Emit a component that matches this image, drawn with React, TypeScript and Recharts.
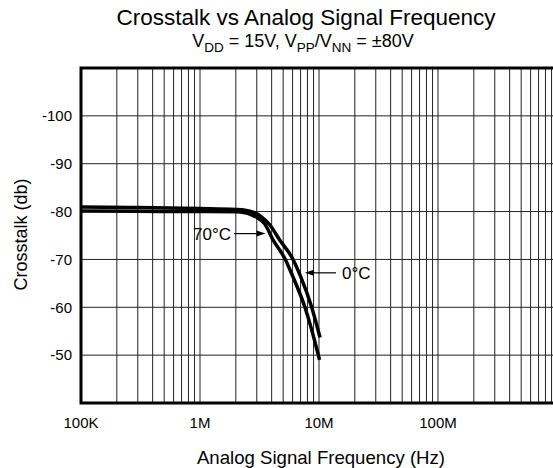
import { LineChart, Line, XAxis, YAxis, CartesianGrid, ReferenceArea, ReferenceLine } from 'recharts';

// curves (Hz, dB)
const freq70 = [1e5, 3e5, 1e6, 2.0e6, 2.39e6, 2.74e6, 3.07e6, 3.48e6, 4.11e6, 5.21e6, 6.01e6, 7.62e6, 9.87e6, 1.01e7];
const db70 = [-80.1, -80.05, -80.0, -79.95, -79.75, -79.27, -78.65, -77.5, -74.1, -70, -66.5, -60, -50, -49.0];

const freq0 = [1e5, 3e5, 1e6, 2.0e6, 2.39e6, 2.79e6, 3.26e6, 3.84e6, 4.66e6, 6.05e6, 6.99e6, 8.68e6, 1.02e7];
const db0 = [-80.95, -80.85, -80.65, -80.45, -80.3, -79.9, -78.96, -77.3, -74.1, -70, -66.5, -60, -53.7];

const decadeLabels: Record<number, string> = { 1e5: '100K', 1e6: '1M', 1e7: '10M', 1e8: '100M' };
const xTicks: number[] = [];
[1e5, 1e6, 1e7, 1e8].forEach((d) => {
  for (let m = 1; m < 10; m++) xTicks.push(d * m);
});
xTicks.push(1e9);
const yTicks = [-100, -90, -80, -70, -60, -50];

const data70 = freq70.map((f, i) => ({ freq: f, db: db70[i] }));
const data0 = freq0.map((f, i) => ({ freq: f, db: db0[i] }));

const FONT = '"Liberation Sans", Arial, Helvetica, sans-serif';

const Arrow = (props: any) => {
  const { x1, y1, x2, y2, text, side } = props;
  const dir = x2 > x1 ? 1 : -1;
  const hl = 9;
  return (
    <g>
      <line x1={x1} y1={y1} x2={x2 - dir * hl} y2={y2} stroke="#000" strokeWidth={1.2} />
      <polygon points={`${x2},${y2} ${x2 - dir * hl},${y2 - 3} ${x2 - dir * hl},${y2 + 3}`} fill="#000" />
      <text
        x={side === 'left' ? x1 - 3 : x1 + 6}
        y={y1 + 6}
        textAnchor={side === 'left' ? 'end' : 'start'}
        fontSize={17}
        fontFamily={FONT}
        fill="#000"
      >
        {text}
      </text>
    </g>
  );
};

export default function App() {
  return (
    <div style={{ position: 'absolute', left: 0, top: 0, width: 553, height: 468, overflow: 'hidden', background: '#fff', fontFamily: FONT }}>
      <div style={{ position: 'absolute', left: 0, width: 612, top: 5, textAlign: 'center', fontSize: 22.5, lineHeight: '26px' }}>
        Crosstalk vs Analog Signal Frequency
      </div>
      <div style={{ position: 'absolute', left: 0, width: 606, top: 30, textAlign: 'center', fontSize: 18, lineHeight: '22px' }}>
        V<sub style={{ fontSize: 13.5 }}>DD</sub> = 15V, V<sub style={{ fontSize: 13.5 }}>PP</sub>/V<sub style={{ fontSize: 13.5 }}>NN</sub> = ±80V
      </div>
      <div style={{ position: 'absolute', left: 0, top: 0 }}>
        <LineChart width={570} height={468} margin={{ top: 68, right: 13, bottom: 0, left: 0 }}>
          <CartesianGrid stroke="#222" strokeWidth={1} horizontal vertical />
          <XAxis
            dataKey="freq"
            type="number"
            scale="log"
            domain={[1e5, 1e9]}
            ticks={xTicks}
            interval={0}
            allowDataOverflow
            height={65}
            axisLine={false}
            tickLine={false}
            tickSize={0}
            tickMargin={14}
            tick={{ fill: '#000', fontSize: 15, fontFamily: FONT }}
            tickFormatter={(v: number) => decadeLabels[v] ?? ''}
            label={{
              content: ({ viewBox }: any) => (
                <text x={viewBox.x + viewBox.width / 2 + 2} y={viewBox.y + 61} textAnchor="middle" fontSize={18.6} fontFamily={FONT} fill="#000">
                  Analog Signal Frequency (Hz)
                </text>
              ),
            }}
          />
          <YAxis
            type="number"
            domain={[-110, -40]}
            reversed
            ticks={yTicks}
            interval={0}
            width={81}
            axisLine={false}
            tickLine={false}
            tickSize={0}
            tickMargin={9}
            tick={{ fill: '#000', fontSize: 15, fontFamily: FONT }}
            label={{
              content: ({ viewBox }: any) => {
                const cx = viewBox.x + 27;
                const cy = viewBox.y + viewBox.height / 2 - 1;
                return (
                  <text x={cx} y={cy} transform={`rotate(-90 ${cx} ${cy})`} textAnchor="middle" fontSize={18} fontFamily={FONT} fill="#000">
                    Crosstalk (db)
                  </text>
                );
              },
            }}
          />
          <ReferenceArea x1={1e5} x2={1e9} y1={-110} y2={-40} fill="none" stroke="#000" strokeWidth={3} />
          <Line data={data70} dataKey="db" type="monotone" stroke="#000" strokeWidth={3.5} dot={false} isAnimationActive={false} />
          <Line data={data0} dataKey="db" type="monotone" stroke="#000" strokeWidth={3.5} dot={false} isAnimationActive={false} />
          <ReferenceLine
            segment={[{ x: 1.93e6, y: -75.4 }, { x: 3.55e6, y: -75.4 }]}
            shape={(p: any) => <Arrow {...p} text="70°C" side="left" />}
          />
          <ReferenceLine
            segment={[{ x: 1.39e7, y: -67.2 }, { x: 7.6e6, y: -67.2 }]}
            shape={(p: any) => <Arrow {...p} text="0°C" side="right" />}
          />
        </LineChart>
      </div>
    </div>
  );
}
